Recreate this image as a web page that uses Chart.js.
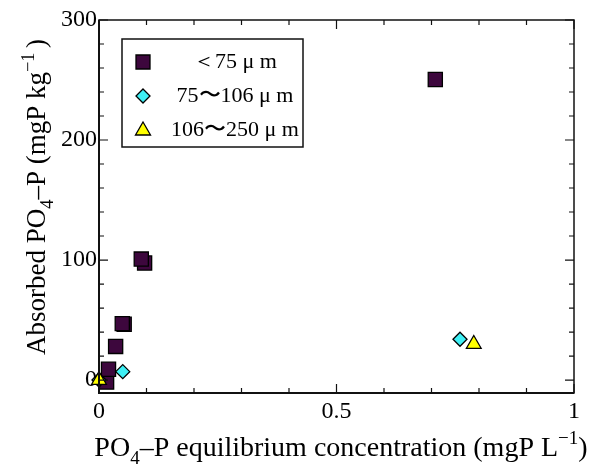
<!DOCTYPE html>
<html lang="en">
<head>
    <meta charset="UTF-8">
    <title>PO4-P adsorption</title>
    <script src="https://cdn.jsdelivr.net/npm/chart.js"></script>
    <style>
        html, body { margin: 0; padding: 0; background: #fff; }
        #chart-container { width: 599px; height: 468px; }
    </style>
</head>
<body>
    <div id="chart-container">
        <canvas id="adsChart" width="599" height="468"></canvas>
    </div>

    <script>
        // data
        const seriesNames = ['＜75 μ m', '75〜106 μ m', '106〜250 μ m'];

        const fineX = [0.053, 0.049, 0.096, 0.089, 0.016, 0.02, 0.035, 0.708];
        const fineY = [46.5, 47, 97.5, 100.8, -1.7, 9, 28, 250.4];

        const midX = [0.0, 0.05, 0.76];
        const midY = [0, 7, 34];

        const coarseX = [0.0, 0.789];
        const coarseY = [0, 30];

        const xTicks = [0, 0.5, 1];
        const yTicks = [0, 100, 200, 300];

        const FONT = '"Liberation Serif", "Times New Roman", serif';

        function toPoints(xs, ys) {
            return xs.map((x, i) => ({ x: x, y: ys[i] }));
        }

        // text with sub / superscripts, centred on cx
        function drawRich(ctx, parts, cx, y, size) {
            let w = 0;
            parts.forEach(p => {
                ctx.font = (p[1] ? size * 0.68 : size) + 'px ' + FONT;
                w += ctx.measureText(p[0]).width;
            });
            let x = cx - w / 2;
            ctx.textAlign = 'left';
            ctx.textBaseline = 'alphabetic';
            parts.forEach(p => {
                ctx.font = (p[1] ? size * 0.68 : size) + 'px ' + FONT;
                let dy = 0;
                if (p[1] === 'sub') dy = size * 0.28;
                if (p[1] === 'sup') dy = -size * 0.42;
                ctx.fillText(p[0], x, y + dy);
                x += ctx.measureText(p[0]).width;
            });
        }

        const framePlugin = {
            id: 'frame',
            afterDatasetsDraw(chart) {
                const ctx = chart.ctx;
                const a = chart.chartArea;
                const xs = chart.scales.x, ys = chart.scales.y;
                ctx.save();
                ctx.strokeStyle = '#111';
                ctx.lineWidth = 1.5;
                ctx.strokeRect(a.left, a.top, a.right - a.left, a.bottom - a.top);
                ctx.lineWidth = 2;
                ctx.beginPath();
                ctx.moveTo(a.left, a.top);
                ctx.lineTo(a.left, a.bottom);
                ctx.lineTo(a.right, a.bottom);
                ctx.stroke();

                ctx.lineWidth = 1.2;
                ctx.beginPath();
                for (let i = 0; i <= 10; i++) {
                    const v = i / 10;
                    const px = xs.getPixelForValue(v);
                    const len = (i % 5 === 0) ? 9 : 5;
                    ctx.moveTo(px, a.bottom); ctx.lineTo(px, a.bottom - len);
                    ctx.moveTo(px, a.top); ctx.lineTo(px, a.top + len);
                }
                for (let v = 0; v <= 300; v += 20) {
                    const py = ys.getPixelForValue(v);
                    const len = (v % 100 === 0) ? 9 : 5;
                    ctx.moveTo(a.left, py); ctx.lineTo(a.left + len, py);
                    ctx.moveTo(a.right, py); ctx.lineTo(a.right - len, py);
                }
                ctx.stroke();

                // legend box
                const lx = 122, ly = 39, lw = 181, lh = 108;
                ctx.fillStyle = '#fff';
                ctx.fillRect(lx, ly, lw, lh);
                ctx.lineWidth = 1.5;
                ctx.strokeStyle = '#111';
                ctx.strokeRect(lx, ly, lw, lh);
                const rowY = [62, 96, 130];
                chart.data.datasets.forEach((ds, i) => {
                    const mx = 143, my = rowY[i];
                    ctx.fillStyle = ds.backgroundColor;
                    ctx.strokeStyle = '#000';
                    ctx.lineWidth = 1.3;
                    ctx.beginPath();
                    if (ds.pointStyle === 'rect') {
                        ctx.rect(mx - 7, my - 7, 14, 14);
                    } else if (ds.pointStyle === 'rectRot') {
                        ctx.moveTo(mx, my - 7); ctx.lineTo(mx + 7, my);
                        ctx.lineTo(mx, my + 7); ctx.lineTo(mx - 7, my);
                        ctx.closePath();
                    } else {
                        ctx.moveTo(mx, my - 8); ctx.lineTo(mx + 7.5, my + 5);
                        ctx.lineTo(mx - 7.5, my + 5);
                        ctx.closePath();
                    }
                    ctx.fill();
                    ctx.stroke();
                    ctx.fillStyle = '#000';
                    ctx.font = '22px ' + FONT;
                    ctx.textAlign = 'center';
                    ctx.textBaseline = 'middle';
                    ctx.fillText(ds.label, 235, my);
                });

                // axis titles
                ctx.fillStyle = '#000';
                drawRich(ctx, [['PO'], ['4', 'sub'], ['–P equilibrium concentration (mgP L'], ['−1', 'sup'], [')']],
                    341, 456, 28);
                ctx.translate(45, 197);
                ctx.rotate(-Math.PI / 2);
                drawRich(ctx, [['Absorbed PO'], ['4', 'sub'], ['–P (mgP kg'], ['−1 ', 'sup'], [')']],
                    0, 0, 27);
                ctx.restore();
            }
        };

        const ctx = document.getElementById('adsChart').getContext('2d');
        new Chart(ctx, {
            type: 'scatter',
            data: {
                datasets: [
                    {
                        label: seriesNames[0],
                        data: toPoints(fineX, fineY),
                        pointStyle: 'rect',
                        radius: 10,
                        backgroundColor: '#3d073d',
                        borderColor: '#000',
                        borderWidth: 1.3,
                        clip: false,
                        order: 2
                    },
                    {
                        label: seriesNames[1],
                        data: toPoints(midX, midY),
                        pointStyle: 'rectRot',
                        radius: 7,
                        backgroundColor: '#3ff0f5',
                        borderColor: '#000',
                        borderWidth: 1.3,
                        clip: false,
                        order: 1
                    },
                    {
                        label: seriesNames[2],
                        data: toPoints(coarseX, coarseY),
                        pointStyle: 'triangle',
                        radius: 8.5,
                        backgroundColor: '#ffff00',
                        borderColor: '#000',
                        borderWidth: 1.3,
                        clip: false,
                        order: 0
                    }
                ]
            },
            options: {
                responsive: false,
                animation: false,
                devicePixelRatio: 1,
                layout: { padding: { left: 0, right: 25, top: 20, bottom: 0 } },
                plugins: {
                    legend: { display: false },
                    tooltip: { enabled: false }
                },
                scales: {
                    x: {
                        type: 'linear',
                        min: 0,
                        max: 1,
                        afterBuildTicks: s => { s.ticks = xTicks.map(v => ({ value: v })); },
                        afterFit: s => { s.height = 75; },
                        grid: { display: false, drawTicks: false },
                        border: { display: false },
                        ticks: {
                            padding: 4,
                            color: '#000',
                            maxRotation: 0,
                            font: { family: FONT, size: 24 },
                            callback: v => String(v)
                        }
                    },
                    y: {
                        type: 'linear',
                        min: -10.8,
                        max: 300,
                        afterBuildTicks: s => { s.ticks = yTicks.map(v => ({ value: v })); },
                        afterFit: s => { s.width = 99; },
                        grid: { display: false, drawTicks: false },
                        border: { display: false },
                        ticks: {
                            padding: 2,
                            color: '#000',
                            font: { family: FONT, size: 24 },
                            callback: v => String(v)
                        }
                    }
                }
            },
            plugins: [framePlugin]
        });
    </script>
</body>
</html>
